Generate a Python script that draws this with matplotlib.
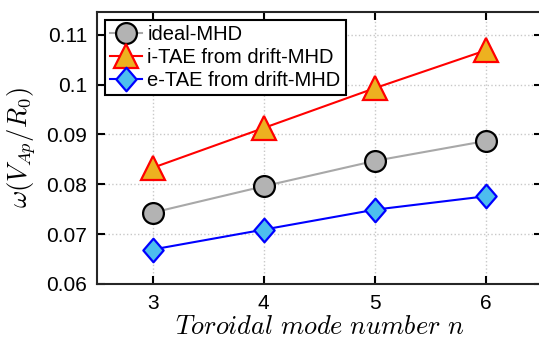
import matplotlib
matplotlib.use("Agg")
import matplotlib.pyplot as plt
from matplotlib.path import Path

plt.rcParams['font.family'] = ['Liberation Sans', 'DejaVu Sans']
plt.rcParams['mathtext.fontset'] = 'cm'

n = [3, 4, 5, 6]
ideal_mhd = [0.0743, 0.0796, 0.0847, 0.0887]
itae_drift = [0.0833, 0.0913, 0.0993, 0.1069]
etae_drift = [0.0669, 0.0709, 0.0749, 0.0776]

labels = ['ideal-MHD', 'i-TAE from drift-MHD', 'e-TAE from drift-MHD']

# slightly taller-than-wide diamond
diamond = Path([(0, 1), (0.86, 0), (0, -1), (-0.86, 0), (0, 1)],
               [Path.MOVETO, Path.LINETO, Path.LINETO, Path.LINETO, Path.CLOSEPOLY])

fig = plt.figure(figsize=(5.39, 3.40), dpi=100)
ax = fig.add_axes([0.18, 0.165, 0.825, 0.80])

ax.plot(n, ideal_mhd, '-o', color='#a8a8a8', lw=1.5, ms=15,
        mfc='#b3b3b3', mec='black', mew=1.6, label=labels[0])
ax.plot(n, itae_drift, '-^', color='red', lw=1.5, ms=17,
        mfc='#edb120', mec='red', mew=1.6, label=labels[1])
ax.plot(n, etae_drift, '-', marker=diamond, color='blue', lw=1.5, ms=17,
        mfc='#4dbeee', mec='blue', mew=1.6, label=labels[2])

ax.set_xlim(2.5, 6.5)
ax.set_ylim(0.06, 0.1146)
ax.set_xticks(n)
ax.set_yticks([0.06, 0.07, 0.08, 0.09, 0.1, 0.11])
ax.set_yticklabels(['0.06', '0.07', '0.08', '0.09', '0.1', '0.11'])
ax.tick_params(direction='in', length=6, width=1.5, labelsize=15,
               top=True, right=True, pad=7)
ax.grid(True, ls=':', color='#c8c8c8', lw=1)
for s in ax.spines.values():
    s.set_linewidth(1.5)
    s.set_color('#262626')

ax.set_xlabel(r'$Toroidal\ mode\ number\ n$', fontsize=19, labelpad=2)
ax.set_ylabel(r'$\omega(V_{Ap}/R_0)$', fontsize=19, labelpad=6)

leg = ax.legend(loc='upper left', fontsize=14.5, fancybox=False,
                edgecolor='black', framealpha=1, borderpad=0.25,
                labelspacing=0.2, handlelength=1.6, handletextpad=0.25,
                borderaxespad=0.4)
leg.get_frame().set_linewidth(1.5)

fig.savefig('out.png', dpi=100)
